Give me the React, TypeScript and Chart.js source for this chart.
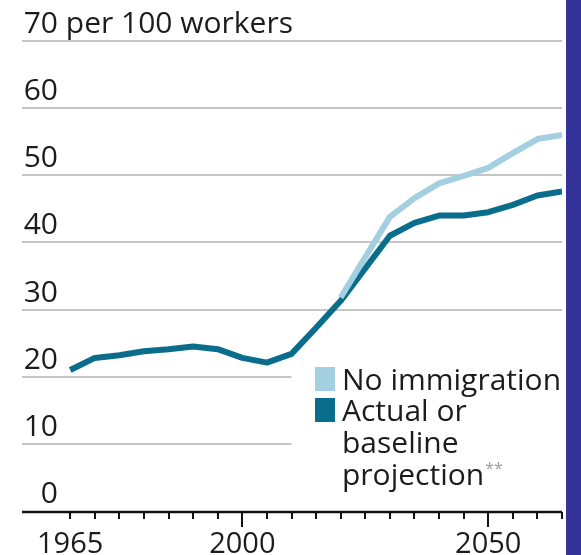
import { useEffect, useRef } from 'react';
import { Chart, registerables } from 'chart.js';

Chart.register(...registerables);

// ---- data ----
const baselineYears = [1965, 1970, 1975, 1980, 1985, 1990, 1995, 2000, 2005, 2010, 2015, 2020, 2030, 2035, 2040, 2045, 2050, 2055, 2060, 2065];
const baselineValues = [21.0, 22.8, 23.2, 23.8, 24.1, 24.5, 24.1, 22.8, 22.1, 23.4, 27.3, 31.3, 41.0, 42.9, 44.0, 44.0, 44.5, 45.6, 47.0, 47.6];
const noImmigrationYears = [2020, 2030, 2035, 2040, 2045, 2050, 2055, 2060, 2065];
const noImmigrationValues = [31.8, 43.8, 46.6, 48.8, 49.9, 51.1, 53.3, 55.4, 56.0];

const yTicks = [0, 10, 20, 30, 40, 50, 60, 70];
const yUnitLabel = 'per 100 workers';
const xLabelTicks = [1965, 2000, 2050];
const xMinorTicks = [1965, 1970, 1975, 1980, 1985, 1990, 1995, 2000, 2005, 2010, 2015, 2020, 2025, 2030, 2035, 2040, 2045, 2050, 2055, 2060, 2065];
const xMin = 1955.2;
const xMax = 2065;
const shortGridValues = [10, 20];
const shortGridEndYear = 2010;

const legendNames = ['No immigration', 'Actual or'];
const legendExtraLines = ['baseline', 'projection'];
const legendFootnoteMark = '**';

const COLOR_DARK = '#0b6d8c';
const COLOR_LIGHT = '#a3cfe0';
const FONT = '"Open Sans", "Noto Sans", sans-serif';
const TEXT = '#1c1c1c';

const decorPlugin = {
  id: 'decor',
  beforeDatasetsDraw(chart: any) {
    const { ctx, chartArea, scales } = chart;
    const x = scales.x;
    const y = scales.y;
    ctx.save();
    ctx.strokeStyle = '#c6c6c6';
    ctx.lineWidth = 2;
    for (const v of yTicks) {
      if (v === 0) continue;
      const py = Math.round(y.getPixelForValue(v));
      const xe = shortGridValues.includes(v) ? x.getPixelForValue(shortGridEndYear) : chartArea.right;
      ctx.beginPath();
      ctx.moveTo(chartArea.left, py);
      ctx.lineTo(xe, py);
      ctx.stroke();
    }
    // y labels
    ctx.fillStyle = TEXT;
    ctx.font = `30px ${FONT}`;
    ctx.textBaseline = 'alphabetic';
    const labelRight = chartArea.left + 36;
    for (const v of yTicks) {
      const py = Math.round(y.getPixelForValue(v));
      if (v === yTicks[yTicks.length - 1]) {
        const w = ctx.measureText(String(v)).width;
        ctx.textAlign = 'left';
        ctx.fillText(`${v} ${yUnitLabel}`, labelRight - w, py - 8);
      } else {
        ctx.textAlign = 'right';
        ctx.fillText(String(v), labelRight, py - 8);
      }
    }
    ctx.restore();
  },
  afterDatasetsDraw(chart: any) {
    const { ctx, chartArea, scales, width, height } = chart;
    const x = scales.x;
    const y = scales.y;
    ctx.save();
    // axis line
    const ay = Math.round(y.getPixelForValue(0)) + 1;
    ctx.strokeStyle = '#111';
    ctx.lineWidth = 2.5;
    ctx.beginPath();
    ctx.moveTo(chartArea.left, ay);
    ctx.lineTo(chartArea.right, ay);
    ctx.stroke();
    // ticks
    ctx.lineWidth = 2;
    for (const t of xMinorTicks) {
      const px = Math.round(x.getPixelForValue(t));
      const major = xLabelTicks.includes(t) && t !== xLabelTicks[0];
      ctx.beginPath();
      ctx.moveTo(px, ay);
      ctx.lineTo(px, ay + (major ? 15 : 7));
      ctx.stroke();
    }
    // x labels
    ctx.fillStyle = TEXT;
    ctx.font = `29px ${FONT}`;
    ctx.textBaseline = 'alphabetic';
    ctx.textAlign = 'left';
    for (const t of xLabelTicks) {
      const px = x.getPixelForValue(t);
      const w = ctx.measureText(String(t)).width;
      const left = Math.max(18, px - w / 2);
      ctx.fillText(String(t), left, 553);
    }
    // legend
    const lx = 315;
    const colors = [COLOR_LIGHT, COLOR_DARK];
    const baselines = [390, 421];
    ctx.font = `30px ${FONT}`;
    legendNames.forEach((name, i) => {
      ctx.fillStyle = colors[i];
      ctx.fillRect(lx, baselines[i] - 23, 20, 24);
      ctx.fillStyle = TEXT;
      ctx.fillText(name, lx + 27, baselines[i]);
    });
    legendExtraLines.forEach((line, i) => {
      ctx.fillStyle = TEXT;
      ctx.fillText(line, lx + 27, 453 + i * 32);
    });
    const lastW = ctx.measureText(legendExtraLines[legendExtraLines.length - 1]).width;
    ctx.font = `16px ${FONT}`;
    ctx.fillStyle = '#9a9a9a';
    ctx.fillText(legendFootnoteMark, lx + 27 + lastW + 1, 453 + 32 - 11);
    // right bar
    ctx.fillStyle = '#34339a';
    ctx.fillRect(566, 0, width - 566, height);
    ctx.restore();
  },
};

export default function App() {
  const canvasRef = useRef<HTMLCanvasElement | null>(null);

  useEffect(() => {
    document.body.style.margin = '0';
    const canvas = canvasRef.current;
    if (!canvas) return;
    const chart = new Chart(canvas, {
      type: 'line',
      data: {
        datasets: [
          {
            label: 'No immigration',
            data: noImmigrationYears.map((yr, i) => ({ x: yr, y: noImmigrationValues[i] })),
            borderColor: COLOR_LIGHT,
            backgroundColor: COLOR_LIGHT,
            borderWidth: 6,
            pointRadius: 0,
            tension: 0,
            borderJoinStyle: 'round',
          },
          {
            label: 'Actual or baseline projection**',
            data: baselineYears.map((yr, i) => ({ x: yr, y: baselineValues[i] })),
            borderColor: COLOR_DARK,
            backgroundColor: COLOR_DARK,
            borderWidth: 6,
            pointRadius: 0,
            tension: 0,
            borderJoinStyle: 'round',
          },
        ],
      },
      options: {
        responsive: false,
        animation: false,
        layout: { padding: { left: 22, right: 19, top: 41, bottom: 44 } },
        scales: {
          x: { type: 'linear', min: xMin, max: xMax, display: false },
          y: { type: 'linear', min: 0, max: 70, display: false },
        },
        plugins: {
          legend: { display: false },
          tooltip: { enabled: false },
        },
      },
      plugins: [decorPlugin],
    });
    return () => chart.destroy();
  }, []);

  return (
    <div style={{ position: 'fixed', left: 0, top: 0, width: 581, height: 555, background: '#fff' }}>
      <canvas ref={canvasRef} width={581} height={555} style={{ display: 'block', width: 581, height: 555 }} />
    </div>
  );
}
